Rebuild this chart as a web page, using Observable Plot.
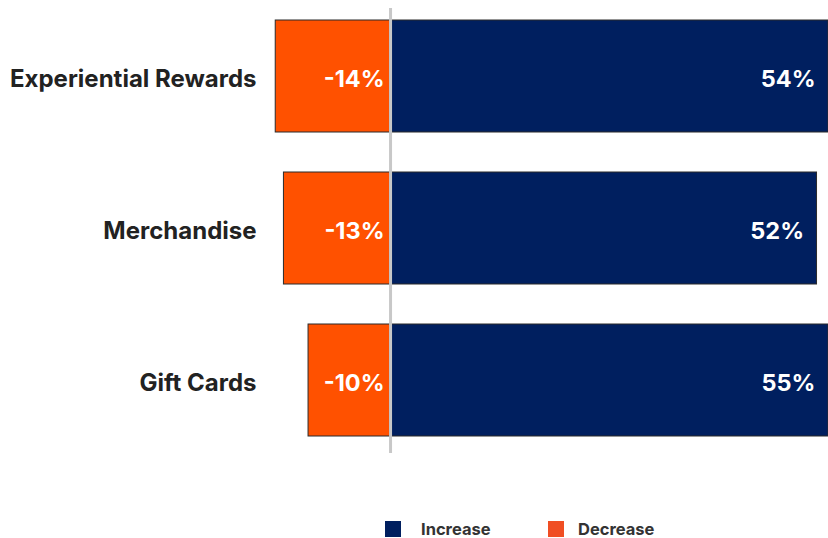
<!DOCTYPE html>
<html>
<head>
<meta charset="utf-8">
<script src="https://cdn.jsdelivr.net/npm/d3@7"></script>
<script src="https://cdn.jsdelivr.net/npm/@observablehq/plot@0.6"></script>
<style>
  body { margin: 0; background: #fff; font-family: Inter, "Noto Sans", sans-serif; }
  #wrap { position: relative; width: 828px; height: 538px; }
  .legend { position: absolute; top: 519px; left: 385px; display: flex; align-items: center; font: 700 16.5px Inter, sans-serif; color: #333; }
  .sw { width: 16px; height: 16px; display: inline-block; }
</style>
</head>
<body>
<div id="wrap"></div>
<script>
const categories = ["Experiential Rewards", "Merchandise", "Gift Cards"];
const increase = [54, 52, 55];
const decrease = [-14, -13, -10];
const seriesNames = ["Increase", "Decrease"];
const colors = ["#001F5F", "#FF5100"];

const rows = [];
categories.forEach((c, i) => {
  rows.push({category: c, series: "Increase", value: increase[i]});
  rows.push({category: c, series: "Decrease", value: decrease[i]});
});

const chart = Plot.plot({
  width: 828,
  height: 470,
  marginLeft: 274,
  marginRight: 0,
  marginTop: 8,
  marginBottom: 17,
  style: {fontFamily: "Inter, sans-serif", background: "#fff"},
  x: {domain: [-14.15, 53.4], clamp: true, axis: null},
  y: {domain: categories, paddingInner: 0.26, paddingOuter: 0.09, align: 0.42, label: null},
  color: {domain: seriesNames, range: colors},
  marks: [
    Plot.barX(rows, {y: "category", x1: 0, x2: "value", fill: "series", stroke: "#2b2b2b", strokeWidth: 1}),
    Plot.ruleX([0], {stroke: "#c8c8c8", strokeWidth: 3}),
    Plot.axisY({tickSize: 0, tickPadding: 18, fontSize: 24, fontWeight: 700, fill: "#222", label: null, dy: 3}),
    Plot.text(rows.filter(d => d.value < 0), {y: "category", x: 0, text: d => d.value + "%", textAnchor: "end", dx: -6, dy: 3, fill: "#fff", fontSize: 23.5, fontWeight: 700}),
    Plot.text(rows.filter(d => d.value > 0), {y: "category", x: "value", text: d => d.value + "%", textAnchor: "end", dx: -13, dy: 3, fill: "#fff", fontSize: 23.5, fontWeight: 700})
  ]
});

const wrap = document.getElementById("wrap");
wrap.appendChild(chart);
const legend = document.createElement("div");
legend.className = "legend";
legend.innerHTML = `<span class="sw" style="background:#001F5F"></span><span style="margin-left:20px;width:127px">${seriesNames[0]}</span><span class="sw" style="background:#F04E23"></span><span style="margin-left:14px">${seriesNames[1]}</span>`;
wrap.appendChild(legend);
</script>
</body>
</html>
